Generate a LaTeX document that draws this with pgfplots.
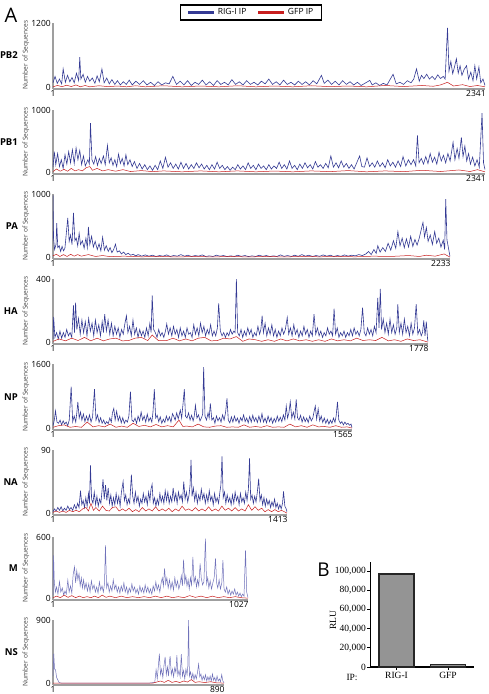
\documentclass[border=0pt]{standalone}
\usepackage{fontspec}
\setmainfont{Open Sans}
\newfontfamily\serifB{Liberation Serif}
\usepackage{pgfplots}
\pgfplotsset{compat=1.18}
\definecolor{bl}{RGB}{52,58,148}
\definecolor{lbl}{RGB}{112,114,186}
\definecolor{rd}{RGB}{200,30,30}
\newcommand{\tickfont}{\fontsize{8.5}{9}\selectfont}
\pgfplotsset{
  panel/.style={scale only axis, anchor=south west,
    axis x line*=bottom, axis y line*=left,
    axis line style={draw=gray!75, line width=1.6pt, -},
    major tick length=0pt, tick style={draw=none},
    xmin=1, xtick={1}, scaled y ticks=false, scaled x ticks=false,
    tick label style={font=\tickfont},
    /pgf/number format/1000 sep={},
    /pgf/number format/assume math mode=true,
    extra x tick style={xticklabel style={anchor=north east, xshift=2pt}},
    xticklabel style={inner sep=1.2pt},
    yticklabel style={inner sep=2pt},
  },
  bln/.style={bl, line width=0.6pt},
  lbln/.style={lbl, line width=0.5pt},
  rdn/.style={rd, line width=0.5pt},
}
\begin{document}
\begin{tikzpicture}[x=1pt,y=1pt]
\path[use as bounding box] (0,0) rectangle (488,-694);

% ---------------- PB2
\begin{axis}[panel, at={(53pt,-89pt)}, width=432pt, height=66pt,
  xmax=2341, ymin=-36, ymax=1200, ytick={0,1200}, extra x ticks={2341},
  legend style={at={(axis description cs:0.458,1.159)}, anchor=center, draw=black, line width=1.5pt,
    legend columns=2, font=\fontsize{8.5}{9}\selectfont, inner xsep=6pt, inner ysep=1.5pt,
    /tikz/every even column/.append style={column sep=8pt}},
  legend image code/.code={\draw[#1, line width=3.5pt] (0pt,0pt) -- (26pt,0pt);}]
\addplot[bln] coordinates {(1,80) (12,200) (24,70) (36,150) (48,60) (56,340) (68,90) (80,220) (92,100) (104,180) (116,80) (128,260) (140,120) (146,560) (152,150) (164,240) (176,90) (188,200) (200,110) (214,170) (228,70) (240,210) (252,100) (266,340) (278,80) (292,170) (306,60) (320,140) (336,50) (350,120) (366,40) (382,100) (398,50) (414,130) (430,40) (450,110) (470,50) (490,120) (510,40) (530,90) (550,30) (570,100) (590,40) (610,80) (630,60) (650,200) (670,50) (690,110) (710,40) (730,120) (750,30) (770,90) (790,50) (810,130) (830,40) (850,100) (870,30) (890,120) (910,50) (930,90) (950,40) (970,140) (990,50) (1010,100) (1030,40) (1050,120) (1070,50) (1090,90) (1110,40) (1130,110) (1150,60) (1170,150) (1190,50) (1210,100) (1230,40) (1250,130) (1270,50) (1290,90) (1310,40) (1330,110) (1350,50) (1370,100) (1390,40) (1410,120) (1430,60) (1455,220) (1470,70) (1490,130) (1510,50) (1530,110) (1550,40) (1570,120) (1590,50) (1610,100) (1630,40) (1650,90) (1670,30) (1690,70) (1717,125) (1730,40) (1750,80) (1770,30) (1790,70) (1810,40) (1843,240) (1860,60) (1880,90) (1900,50) (1920,120) (1940,80) (1955,150) (1970,340) (1985,110) (1997,220) (2010,160) (2025,240) (2040,150) (2055,200) (2070,140) (2085,230) (2100,160) (2115,200) (2125,150) (2138,1110) (2146,300) (2156,480) (2166,250) (2176,380) (2186,530) (2196,260) (2206,400) (2216,220) (2228,330) (2241,400) (2252,150) (2264,280) (2276,120) (2286,400) (2296,150) (2308,375) (2318,80) (2330,150) (2341,30)};
\addlegendentry{RIG-I IP}
\addplot[rdn] coordinates {(1,5) (25,30) (50,8) (75,35) (100,10) (125,40) (150,5) (175,30) (200,5) (250,25) (300,8) (350,20) (400,5) (450,25) (500,5) (600,25) (700,5) (800,20) (900,5) (1000,25) (1100,5) (1200,20) (1300,5) (1400,25) (1500,8) (1600,20) (1700,5) (1800,30) (1900,10) (2000,30) (2060,15) (2100,40) (2138,90) (2170,20) (2220,45) (2260,10) (2300,30) (2341,5)};
\addlegendentry{GFP IP}
\end{axis}

% ---------------- PB1
\begin{axis}[panel, at={(53pt,-174pt)}, width=432pt, height=64pt,
  xmax=2341, ymin=-30, ymax=1000, ytick={0,1000}, extra x ticks={2341}]
\addplot[bln] coordinates {(1,80) (8,330) (16,120) (26,300) (36,90) (46,200) (56,60) (66,280) (76,130) (86,330) (96,150) (106,360) (116,140) (126,390) (136,200) (146,350) (156,120) (166,260) (176,100) (190,200) (198,130) (204,790) (212,200) (222,130) (232,250) (242,110) (252,220) (262,140) (274,260) (284,120) (296,430) (306,150) (316,230) (326,110) (336,200) (346,90) (356,290) (366,140) (376,220) (386,100) (396,280) (406,120) (418,200) (430,90) (442,170) (456,60) (470,140) (484,50) (498,120) (512,40) (526,100) (540,30) (554,110) (568,40) (582,180) (596,60) (610,240) (624,80) (638,150) (652,60) (666,130) (680,50) (694,160) (708,60) (722,140) (736,50) (750,120) (764,60) (778,150) (792,70) (806,130) (820,50) (834,110) (848,40) (862,120) (876,50) (890,160) (904,60) (918,110) (932,40) (946,90) (960,30) (974,80) (988,40) (1002,120) (1016,50) (1030,100) (1044,40) (1058,150) (1072,60) (1086,110) (1100,40) (1114,130) (1128,60) (1142,100) (1156,40) (1170,120) (1184,50) (1198,100) (1212,60) (1226,160) (1240,60) (1254,120) (1268,50) (1282,180) (1296,60) (1310,110) (1324,40) (1338,130) (1352,60) (1366,150) (1380,70) (1394,120) (1408,50) (1422,170) (1436,80) (1450,120) (1464,60) (1478,140) (1492,70) (1506,260) (1520,80) (1534,150) (1548,70) (1562,180) (1576,80) (1590,140) (1604,60) (1618,120) (1632,50) (1646,150) (1662,260) (1674,90) (1688,80) (1702,230) (1716,90) (1730,150) (1744,80) (1758,180) (1772,90) (1786,150) (1800,70) (1814,200) (1828,100) (1842,160) (1856,80) (1870,180) (1884,90) (1897,250) (1912,100) (1926,200) (1940,120) (1954,200) (1966,100) (1975,590) (1984,150) (1996,220) (2008,130) (2020,250) (2032,140) (2044,300) (2056,160) (2068,240) (2080,130) (2092,320) (2104,180) (2116,270) (2128,150) (2140,300) (2152,180) (2168,480) (2178,200) (2190,380) (2200,220) (2213,560) (2222,250) (2232,420) (2242,180) (2252,300) (2262,130) (2274,240) (2286,100) (2298,200) (2310,80) (2325,950) (2333,150) (2341,40)};
\addplot[rdn] coordinates {(1,10) (20,50) (40,15) (60,45) (80,15) (100,60) (120,20) (140,40) (160,20) (180,70) (200,90) (215,30) (240,60) (270,20) (300,40) (340,15) (380,40) (420,10) (480,25) (540,8) (600,20) (700,5) (800,20) (900,5) (1000,20) (1100,5) (1200,18) (1300,5) (1400,20) (1500,8) (1600,25) (1700,5) (1800,20) (1900,8) (2000,30) (2100,10) (2200,35) (2260,10) (2300,40) (2341,5)};
\end{axis}

% ---------------- PA
\begin{axis}[panel, at={(53pt,-259pt)}, width=397pt, height=65pt,
  xmax=2233, ymin=-30, ymax=1000, ytick={0,1000}, extra x ticks={2233}]
\addplot[bln] coordinates {(1,980) (4,300) (10,120) (18,200) (22,540) (28,150) (36,180) (44,90) (52,170) (60,100) (68,140) (76,380) (84,620) (92,250) (100,350) (108,200) (116,700) (124,260) (132,300) (140,180) (148,380) (156,200) (166,260) (176,140) (186,300) (194,150) (200,480) (208,200) (218,330) (228,160) (238,250) (250,120) (260,210) (270,100) (280,315) (290,110) (300,180) (312,90) (322,150) (332,70) (342,120) (352,205) (362,80) (374,100) (386,50) (398,80) (410,40) (424,60) (438,30) (452,45) (466,20) (480,40) (500,15) (520,35) (540,15) (560,30) (580,10) (600,25) (620,15) (640,35) (660,10) (680,25) (700,15) (720,40) (740,15) (760,30) (780,10) (800,25) (820,15) (840,35) (860,10) (880,20) (900,10) (920,30) (940,15) (960,25) (980,8) (1000,20) (1020,10) (1040,30) (1060,12) (1080,25) (1100,8) (1120,20) (1140,10) (1160,30) (1180,12) (1200,25) (1220,8) (1240,20) (1260,10) (1280,35) (1300,12) (1320,25) (1340,10) (1360,30) (1380,12) (1400,40) (1420,15) (1440,30) (1460,10) (1480,25) (1500,12) (1520,35) (1540,15) (1560,30) (1580,10) (1600,25) (1620,12) (1640,35) (1660,15) (1680,30) (1700,20) (1720,40) (1740,25) (1760,50) (1775,90) (1790,40) (1805,120) (1818,60) (1827,180) (1840,80) (1855,150) (1870,90) (1885,220) (1900,110) (1915,260) (1928,140) (1940,405) (1952,180) (1964,300) (1976,150) (1988,290) (2000,160) (2012,330) (2024,170) (2036,280) (2048,190) (2060,300) (2070,420) (2081,550) (2090,320) (2100,470) (2110,250) (2122,350) (2134,200) (2147,405) (2158,220) (2170,300) (2182,160) (2195,270) (2203,120) (2209,920) (2216,270) (2224,150) (2233,10)};
\addplot[rdn] coordinates {(1,20) (20,45) (40,10) (60,40) (80,10) (100,45) (120,15) (140,40) (160,15) (200,40) (240,10) (280,25) (320,8) (400,15) (500,5) (600,10) (700,3) (800,10) (900,3) (1000,10) (1100,3) (1200,10) (1300,3) (1400,10) (1500,5) (1600,10) (1700,5) (1800,15) (1900,10) (2000,25) (2060,10) (2100,30) (2150,15) (2200,50) (2233,0)};
\end{axis}

% ---------------- HA
\begin{axis}[panel, at={(53pt,-344pt)}, width=375pt, height=65pt,
  xmax=1778, ymin=-12, ymax=400, ytick={0,400}, extra x ticks={1778}]
\addplot[bln] coordinates {(1,20) (4,160) (10,30) (18,60) (26,20) (34,70) (42,25) (50,60) (58,30) (66,80) (74,40) (82,60) (90,30) (98,233) (103,60) (108,250) (114,80) (122,150) (130,50) (138,140) (146,60) (154,130) (162,40) (170,150) (178,70) (186,120) (194,40) (202,140) (210,60) (218,110) (226,40) (234,130) (240,60) (246,177) (254,70) (262,140) (270,50) (278,120) (286,40) (294,100) (302,50) (310,90) (318,30) (326,80) (334,50) (342,120) (349,167) (356,60) (364,100) (372,40) (380,140) (388,50) (396,90) (404,30) (412,80) (420,40) (428,70) (436,30) (444,90) (452,40) (460,120) (466,60) (471,296) (478,80) (486,60) (494,30) (502,80) (510,40) (518,60) (526,30) (534,70) (540,115) (548,50) (556,90) (564,40) (572,100) (580,50) (588,80) (596,30) (604,90) (612,40) (620,70) (628,30) (636,90) (644,50) (652,60) (660,30) (668,110) (676,50) (684,90) (692,40) (700,120) (708,60) (716,100) (724,40) (732,80) (740,50) (748,110) (756,40) (764,70) (772,40) (780,90) (786,246) (794,70) (802,40) (810,60) (818,30) (826,60) (834,40) (842,80) (850,50) (858,70) (864,60) (870,400) (876,60) (884,40) (892,80) (900,30) (908,70) (916,40) (924,90) (932,50) (940,80) (948,30) (956,60) (964,40) (972,100) (980,50) (986,80) (992,167) (998,60) (1006,120) (1014,40) (1022,90) (1030,50) (1038,110) (1046,40) (1054,80) (1062,30) (1070,70) (1078,40) (1086,90) (1094,50) (1102,80) (1111,156) (1118,50) (1126,90) (1134,40) (1142,110) (1150,50) (1158,80) (1166,30) (1174,70) (1182,40) (1190,100) (1198,50) (1206,80) (1214,30) (1222,70) (1230,40) (1238,177) (1246,50) (1254,90) (1262,40) (1270,70) (1278,30) (1286,60) (1294,40) (1302,90) (1310,50) (1318,70) (1326,40) (1333,212) (1340,50) (1348,90) (1356,30) (1364,60) (1372,40) (1380,70) (1388,30) (1396,60) (1404,40) (1412,80) (1420,40) (1428,90) (1436,50) (1444,70) (1452,40) (1460,80) (1468,219) (1476,60) (1484,40) (1492,90) (1500,50) (1508,80) (1516,40) (1524,100) (1532,60) (1540,281) (1546,90) (1552,337) (1558,80) (1566,146) (1574,60) (1582,120) (1590,50) (1598,146) (1606,60) (1614,110) (1622,50) (1630,90) (1635,240) (1642,60) (1650,120) (1658,50) (1666,146) (1674,60) (1682,100) (1690,40) (1698,120) (1706,50) (1714,90) (1722,240) (1730,50) (1738,80) (1746,40) (1752,60) (1758,137) (1764,40) (1770,130) (1776,20) (1778,5)};
\addplot[rdn] coordinates {(1,5) (30,20) (60,8) (90,25) (120,10) (150,30) (180,8) (210,25) (240,8) (270,20) (300,25) (330,8) (360,10) (390,25) (420,30) (450,10) (471,45) (500,10) (540,10) (570,25) (600,8) (630,20) (660,8) (690,25) (720,30) (750,8) (780,10) (810,25) (840,20) (870,35) (900,5) (930,20) (960,15) (990,5) (1020,15) (1050,5) (1080,20) (1110,8) (1140,20) (1170,8) (1200,15) (1230,5) (1260,15) (1290,5) (1320,20) (1350,8) (1380,15) (1410,8) (1440,25) (1470,10) (1500,15) (1530,10) (1560,30) (1590,8) (1620,15) (1650,5) (1680,20) (1710,10) (1740,15) (1778,0)};
\end{axis}

% ---------------- NP
\begin{axis}[panel, at={(53pt,-430pt)}, width=299pt, height=66pt,
  xmax=1565, ymin=-48, ymax=1600, ytick={0,1600}, extra x ticks={1565}]
\addplot[bln] coordinates {(1,60) (8,200) (14,430) (22,150) (30,120) (38,200) (46,80) (54,180) (62,100) (70,150) (78,60) (86,200) (96,1035) (104,160) (112,300) (120,150) (126,400) (131,656) (138,250) (145,400) (152,200) (160,350) (168,160) (176,300) (184,180) (192,330) (200,150) (208,280) (218,970) (226,200) (234,330) (242,140) (250,260) (258,120) (266,200) (274,100) (282,160) (290,110) (298,250) (306,150) (312,380) (319,490) (326,200) (334,420) (342,180) (350,300) (358,130) (366,260) (374,120) (382,200) (390,150) (398,300) (406,910) (414,200) (422,160) (430,250) (438,120) (446,300) (454,180) (462,400) (470,200) (478,300) (486,150) (494,350) (502,170) (510,260) (518,150) (524,400) (531,970) (538,250) (546,320) (554,160) (562,280) (570,120) (578,220) (586,140) (594,300) (602,180) (610,280) (618,150) (626,360) (632,300) (640,200) (648,380) (656,230) (667,450) (674,250) (681,600) (688,970) (694,300) (702,250) (710,380) (718,200) (726,320) (734,180) (740,300) (746,570) (754,250) (762,330) (770,180) (778,260) (784,350) (789,1525) (796,300) (804,200) (812,380) (818,250) (824,615) (832,200) (840,260) (848,120) (856,300) (864,180) (872,260) (880,150) (888,330) (896,200) (904,400) (911,740) (918,200) (926,130) (934,280) (942,150) (950,300) (958,170) (966,250) (974,120) (982,260) (990,180) (998,330) (1006,160) (1014,250) (1022,130) (1030,290) (1038,150) (1046,320) (1054,170) (1062,260) (1070,140) (1078,300) (1086,160) (1094,360) (1102,150) (1110,250) (1118,130) (1126,300) (1134,160) (1142,260) (1150,120) (1158,240) (1166,150) (1174,300) (1182,170) (1190,270) (1198,160) (1206,330) (1214,200) (1221,550) (1228,250) (1235,380) (1242,656) (1250,250) (1258,400) (1266,230) (1273,716) (1280,260) (1288,200) (1296,320) (1304,150) (1312,280) (1320,160) (1328,250) (1336,140) (1344,300) (1352,180) (1360,250) (1366,400) (1373,550) (1380,220) (1388,480) (1396,180) (1404,300) (1412,140) (1420,250) (1428,120) (1436,220) (1444,100) (1452,200) (1460,120) (1468,250) (1476,140) (1482,300) (1489,656) (1496,200) (1504,120) (1512,160) (1520,80) (1528,150) (1536,90) (1544,120) (1552,70) (1560,100) (1565,10)};
\addplot[rdn] coordinates {(1,20) (30,60) (60,80) (90,20) (120,40) (150,20) (180,150) (210,30) (240,60) (270,30) (300,100) (330,20) (360,50) (390,20) (420,120) (450,40) (480,70) (510,30) (540,90) (570,30) (600,60) (630,30) (660,200) (680,40) (700,50) (730,30) (760,100) (790,30) (820,20) (850,50) (880,60) (910,20) (940,30) (970,20) (1000,80) (1030,20) (1060,40) (1090,20) (1120,60) (1150,20) (1180,30) (1210,20) (1240,100) (1270,30) (1300,60) (1330,20) (1360,80) (1390,30) (1420,40) (1450,20) (1480,60) (1510,20) (1540,30) (1565,0)};
\end{axis}

% ---------------- NA
\begin{axis}[panel, at={(53pt,-515pt)}, width=234pt, height=65pt,
  xmax=1413, ymin=-2.7, ymax=90, ytick={0,90}, extra x ticks={1413}]
\addplot[bln] coordinates {(1,2) (10,6) (20,3) (30,8) (40,4) (50,9) (60,3) (70,7) (80,4) (90,10) (100,5) (110,8) (120,4) (130,12) (140,6) (150,14) (158,8) (167,32) (175,12) (183,18) (191,8) (199,22) (207,10) (215,28) (221,14) (227,68) (234,20) (242,14) (250,30) (258,12) (266,24) (274,10) (282,20) (290,14) (296,30) (303,48) (310,20) (318,40) (326,18) (334,36) (342,14) (350,26) (358,10) (366,22) (374,12) (382,28) (390,14) (398,24) (406,10) (414,30) (424,45) (432,18) (440,26) (448,12) (456,20) (464,14) (474,55) (482,24) (490,14) (498,30) (506,16) (514,24) (522,10) (530,20) (538,14) (546,28) (554,16) (562,24) (570,12) (578,30) (586,18) (592,34) (599,41) (606,14) (614,22) (622,10) (630,20) (638,12) (646,28) (654,16) (662,24) (670,14) (678,32) (686,18) (694,30) (702,14) (710,24) (718,16) (726,36) (734,18) (742,28) (750,14) (758,30) (766,20) (774,26) (782,16) (790,45) (798,20) (806,30) (814,16) (822,26) (828,40) (834,76) (840,24) (848,36) (856,18) (864,30) (872,14) (880,26) (888,18) (896,34) (904,20) (912,28) (920,14) (928,26) (936,16) (944,32) (952,18) (960,24) (968,12) (976,28) (984,16) (992,22) (1000,14) (1008,30) (1014,40) (1021,81) (1028,22) (1036,30) (1044,14) (1052,26) (1060,16) (1068,22) (1076,12) (1084,26) (1092,14) (1100,30) (1108,18) (1116,24) (1124,12) (1132,28) (1140,16) (1148,22) (1156,14) (1164,30) (1172,18) (1180,34) (1187,78) (1194,20) (1202,26) (1210,14) (1218,24) (1226,16) (1234,30) (1242,49) (1250,18) (1258,26) (1266,12) (1274,22) (1282,10) (1290,20) (1298,12) (1306,18) (1314,8) (1322,16) (1330,10) (1338,20) (1346,8) (1354,14) (1362,6) (1370,12) (1378,6) (1386,14) (1392,31) (1400,10) (1408,6) (1413,2)};
\addplot[rdn] coordinates {(1,1) (20,3) (40,1) (60,3) (80,1) (100,4) (120,2) (140,4) (160,2) (180,6) (200,8) (215,3) (230,14) (245,4) (260,8) (280,3) (300,10) (320,4) (340,3) (360,8) (380,9) (400,3) (420,6) (440,3) (460,7) (480,2) (500,5) (520,2) (540,8) (560,3) (580,6) (600,3) (620,9) (640,3) (660,6) (680,3) (700,7) (720,2) (740,6) (760,3) (780,10) (800,4) (820,6) (840,3) (860,8) (880,3) (900,6) (920,3) (940,9) (960,3) (980,6) (1000,3) (1020,10) (1040,4) (1060,7) (1080,3) (1100,8) (1120,3) (1140,6) (1160,3) (1180,12) (1200,4) (1220,9) (1240,4) (1260,7) (1280,2) (1300,5) (1320,2) (1340,5) (1360,2) (1380,4) (1413,0)};
\end{axis}

% ---------------- M
\begin{axis}[panel, at={(53pt,-600pt)}, width=195pt, height=63pt,
  xmax=1027, ymin=-18, ymax=600, ytick={0,600}, extra x ticks={1027}]
\addplot[lbln] coordinates {(1,30) (4,420) (8,150) (14,60) (20,110) (27,40) (35,162) (42,60) (50,100) (57,30) (64,70) (71,40) (79,178) (86,60) (93,120) (100,50) (107,230) (114,308) (120,150) (126,270) (132,180) (138,240) (144,120) (150,200) (156,100) (162,180) (168,90) (175,150) (182,70) (189,140) (196,60) (203,170) (210,90) (217,130) (224,60) (231,110) (238,50) (245,160) (252,80) (259,120) (266,60) (272,140) (277,518) (283,100) (290,150) (297,60) (304,120) (311,70) (318,180) (325,90) (332,130) (339,60) (346,110) (353,50) (360,120) (367,70) (374,150) (381,60) (388,110) (395,40) (402,100) (409,60) (416,140) (423,70) (430,110) (437,50) (444,90) (451,40) (458,120) (465,60) (472,100) (479,50) (486,130) (493,60) (500,110) (507,50) (514,90) (521,40) (528,120) (535,70) (542,160) (549,80) (556,130) (563,60) (570,150) (576,200) (582,120) (588,292) (594,140) (600,200) (607,100) (614,180) (621,90) (628,160) (635,80) (642,200) (649,110) (656,170) (663,90) (670,140) (676,220) (682,120) (688,379) (694,150) (700,220) (706,120) (712,180) (718,90) (724,200) (730,130) (737,405) (743,150) (750,210) (756,110) (762,180) (768,120) (775,340) (781,200) (788,130) (795,160) (803,583) (809,140) (815,200) (821,100) (828,170) (835,90) (842,150) (849,200) (856,389) (862,150) (868,100) (875,180) (882,90) (889,150) (895,373) (901,90) (908,60) (915,110) (922,40) (929,80) (936,30) (943,70) (950,40) (957,90) (964,30) (971,60) (978,20) (985,50) (992,15) (999,40) (1006,20) (1014,470) (1020,60) (1027,5)};
\addplot[rdn] coordinates {(1,5) (20,20) (40,5) (60,30) (80,8) (100,25) (120,5) (140,20) (160,5) (180,15) (200,5) (220,20) (240,5) (260,30) (280,8) (300,20) (330,5) (360,20) (390,5) (420,15) (450,5) (480,15) (510,5) (540,20) (570,5) (600,20) (630,5) (660,15) (690,5) (720,25) (750,8) (780,20) (810,5) (840,20) (870,5) (900,15) (930,5) (960,15) (990,5) (1027,0)};
\end{axis}

% ---------------- NS
\begin{axis}[panel, at={(53pt,-685pt)}, width=171pt, height=65pt,
  xmax=890, ymin=-27, ymax=900, ytick={0,900}, extra x ticks={890}]
\addplot[lbln] coordinates {(1,100) (5,420) (9,200) (14,190) (20,80) (26,47) (32,10) (40,2) (60,0) (100,0) (200,0) (300,0) (400,0) (500,0) (530,10) (537,190) (543,60) (549,250) (554,420) (560,120) (566,200) (572,80) (578,250) (584,375) (590,120) (596,230) (602,100) (606,300) (610,385) (616,120) (622,200) (628,90) (634,220) (640,150) (645,400) (650,110) (656,180) (662,90) (668,413) (674,100) (680,180) (686,60) (692,200) (698,120) (702,250) (706,900) (710,100) (716,160) (722,60) (728,140) (734,50) (740,120) (746,60) (752,150) (758,270) (764,90) (770,130) (776,40) (782,100) (788,50) (794,120) (800,30) (806,90) (812,40) (818,100) (824,30) (830,130) (836,40) (842,80) (848,20) (854,100) (860,30) (866,60) (872,20) (878,120) (884,30) (890,5)};
\addplot[rdn] coordinates {(1,0) (520,0) (540,15) (560,30) (580,10) (600,40) (620,10) (640,25) (660,8) (680,30) (700,15) (720,50) (740,10) (760,20) (790,8) (820,20) (850,5) (890,0)};
\end{axis}

% ---------------- B
\begin{axis}[scale only axis, anchor=south west, at={(370pt,-667pt)}, width=104pt, height=105pt,
  xmin=0.485, xmax=2.505, ymin=0, ymax=109375,
  axis x line*=bottom, axis y line*=left,
  x axis line style={-, line width=1.8pt}, y axis line style={-, line width=1pt},
  tick align=outside, major tick length=3pt, tick style={black, line width=0.8pt},
  ytick={0,20000,40000,60000,80000,100000},
  yticklabels={0,{20,000},{40,000},{60,000},{80,000},{100,000}},
  xtick={1,2}, xticklabels={RIG-I,GFP}, scaled y ticks=false,
  tick label style={font=\serifB\fontsize{9.5}{10}\selectfont},
  yticklabel style={inner sep=1pt}, xticklabel style={inner sep=2pt}]
\addplot[ybar, bar width=35pt, fill=black!42, draw=black!85, line width=1.2pt] coordinates {(1,96900) (2,2300)};
\end{axis}

% ---------------- text labels
\node[font=\fontsize{20}{20}\selectfont, anchor=west] at (1,-15) {A};
\node[font=\fontsize{19}{19}\selectfont] at (323.5,-569.5) {B};
\foreach \lab/\yy in {PB2/55,PB1/142,PA/226,HA/311,NP/397,NA/482,M/568,NS/652}{
  \node[font=\bfseries\fontsize{9.5}{10}\selectfont, anchor=east, inner sep=0pt] at (18,-\yy) {\lab};
  \node[font=\fontsize{6.6}{7}\selectfont, text=black!75, rotate=90] at (26,-\yy) {Number of Sequences};
}
\node[font=\serifB\fontsize{9.5}{10}\selectfont, rotate=90] at (333,-620) {RLU};
\node[font=\serifB\fontsize{9.5}{10}\selectfont, anchor=west] at (343,-677) {IP:};
\end{tikzpicture}
\end{document}
